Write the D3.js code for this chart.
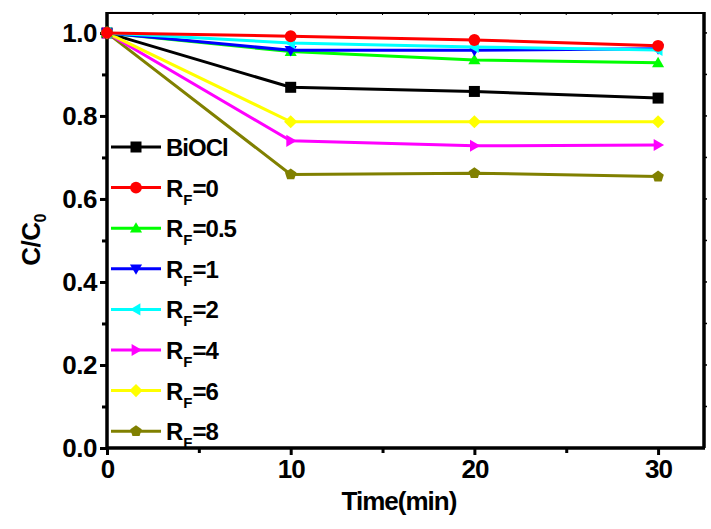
<!DOCTYPE html>
<html><head><meta charset="utf-8">
<script src="https://cdn.jsdelivr.net/npm/d3@7"></script>
<style>body{margin:0;background:#fff}svg{display:block}text{font-family:"Liberation Sans",Arial,sans-serif;font-weight:bold}</style>
</head><body><svg id="c" width="711" height="529"></svg>
<script>
const times = [0, 10, 20, 30];
const seriesNames = ["BiOCl", "R_F=0", "R_F=0.5", "R_F=1", "R_F=2", "R_F=4", "R_F=6", "R_F=8"];
const seriesColors = ["#000000", "#ff0000", "#00ff00", "#0000ff", "#00ffff", "#ff00ff", "#ffff00", "#808000"];
const seriesMarkers = ["square", "circle", "triangleUp", "triangleDown", "triangleLeft", "triangleRight", "diamond", "pentagon"];
const vBiOCl = [1.0, 0.869, 0.859, 0.843];
const vRF0   = [1.0, 0.992, 0.983, 0.969];
const vRF05  = [1.0, 0.955, 0.935, 0.928];
const vRF1   = [1.0, 0.958, 0.958, 0.962];
const vRF2   = [1.0, 0.976, 0.966, 0.959];
const vRF4   = [1.0, 0.740, 0.728, 0.730];
const vRF6   = [1.0, 0.786, 0.786, 0.786];
const vRF8   = [1.0, 0.659, 0.662, 0.654];
const seriesValues = [vBiOCl, vRF0, vRF05, vRF1, vRF2, vRF4, vRF6, vRF8];
const xTicks = [0, 10, 20, 30];
const yTicks = [0.0, 0.2, 0.4, 0.6, 0.8, 1.0];

const svg = d3.select("#c");
const L = 107, R = 704, T = 13, B = 448;
const x = d3.scaleLinear().domain([0, 32.5]).range([L, R]);
const y = d3.scaleLinear().domain([0, 1.048]).range([B, T]);
const FONT = "'Liberation Sans',Arial,sans-serif";

// frame top/right
svg.append("line").attr("x1", L).attr("x2", R).attr("y1", T).attr("y2", T).attr("stroke", "#000").attr("stroke-width", 2);
svg.append("line").attr("x1", R).attr("x2", R).attr("y1", T - 1).attr("y2", B).attr("stroke", "#000").attr("stroke-width", 3.5);
// tiny mirror ticks
d3.range(0, 32.5, 2.5).slice(1).forEach(t => svg.append("line").attr("x1", x(t)).attr("x2", x(t)).attr("y1", T).attr("y2", T + 2).attr("stroke", "#000").attr("stroke-width", 1));
d3.range(0.1, 1.05, 0.1).forEach(t => svg.append("line").attr("x1", R).attr("x2", R + 3).attr("y1", y(t)).attr("y2", y(t)).attr("stroke", "#000").attr("stroke-width", 1.5));

// axes
const xAxis = d3.axisBottom(x).tickValues(xTicks).tickFormat(d3.format("d")).tickSize(7).tickPadding(4);
const gx = svg.append("g").attr("transform", `translate(0,${B})`).call(xAxis);
gx.select(".domain").attr("stroke-width", 3.5).attr("d", `M${L - 1},0H${R + 1}`);
gx.selectAll(".tick line").attr("stroke-width", 3);
gx.selectAll(".tick text").attr("font-size", 26).attr("fill", "#000").attr("dy", "0.72em").attr("font-family", FONT).attr("letter-spacing", -1).style("font-weight", "bold");
const xMinor = d3.axisBottom(x).tickValues([5, 15, 25]).tickFormat("").tickSize(5);
const gxm = svg.append("g").attr("transform", `translate(0,${B})`).call(xMinor);
gxm.select(".domain").remove();
gxm.selectAll(".tick line").attr("stroke-width", 3);

const yAxis = d3.axisLeft(y).tickValues(yTicks).tickFormat(d3.format(".1f")).tickSize(7).tickPadding(3);
const gy = svg.append("g").attr("transform", `translate(${L},0)`).call(yAxis);
gy.select(".domain").attr("stroke-width", 3.5).attr("d", `M0,${B + 1}V${T - 1}`);
gy.selectAll(".tick line").attr("stroke-width", 3);
gy.selectAll(".tick text").attr("font-size", 26).attr("fill", "#000").attr("font-family", FONT).attr("letter-spacing", -0.5).style("font-weight", "bold");
const yMinor = d3.axisLeft(y).tickValues([0.1, 0.3, 0.5, 0.7, 0.9]).tickFormat("").tickSize(5);
const gym = svg.append("g").attr("transform", `translate(${L},0)`).call(yMinor);
gym.select(".domain").remove();
gym.selectAll(".tick line").attr("stroke-width", 3);

// axis titles
svg.append("text").attr("x", 399).attr("y", 510).attr("text-anchor", "middle").attr("font-size", 26)
  .attr("font-family", FONT).attr("letter-spacing", -1).text("Time(min)");
const yt = svg.append("text").attr("transform", "translate(40,240) rotate(-90)").attr("text-anchor", "middle").attr("font-size", 26)
  .attr("font-family", FONT).attr("letter-spacing", -0.5);
yt.append("tspan").text("C/C");
yt.append("tspan").attr("font-size", 16).attr("dy", 6).text("0");

// markers
const sz = 11;
function markerPath(kind) {
  const r = sz / 2;
  switch (kind) {
    case "square": return `M${-r},${-r}H${r}V${r}H${-r}Z`;
    case "circle": return d3.symbol(d3.symbolCircle, Math.PI * r * r * 1.15)();
    case "triangleUp": return `M0,${-r * 1.1}L${r * 1.1},${r * 0.8}L${-r * 1.1},${r * 0.8}Z`;
    case "triangleDown": return `M0,${r * 1.1}L${r * 1.1},${-r * 0.8}L${-r * 1.1},${-r * 0.8}Z`;
    case "triangleLeft": return `M${-r * 1.1},0L${r * 0.8},${-r * 1.1}L${r * 0.8},${r * 1.1}Z`;
    case "triangleRight": return `M${r * 1.1},0L${-r * 0.8},${-r * 1.1}L${-r * 0.8},${r * 1.1}Z`;
    case "diamond": return `M0,${-r * 1.2}L${r * 1.2},0L0,${r * 1.2}L${-r * 1.2},0Z`;
    case "pentagon": {
      const pts = d3.range(5).map(i => { const a = -Math.PI / 2 + i * 2 * Math.PI / 5; return [r * 1.1 * Math.cos(a), r * 1.1 * Math.sin(a)]; });
      return "M" + pts.map(p => p.join(",")).join("L") + "Z";
    }
  }
}

const line = d3.line().x((d, i) => x(times[i])).y(d => y(d));
const order = [0, 7, 5, 6, 2, 3, 4, 1];
order.forEach(si => {
  const g = svg.append("g");
  g.append("path").attr("d", line(seriesValues[si])).attr("fill", "none").attr("stroke", seriesColors[si]).attr("stroke-width", 3);
  seriesValues[si].forEach((v, i) => {
    g.append("path").attr("d", markerPath(seriesMarkers[si])).attr("transform", `translate(${x(times[i])},${y(v)})`).attr("fill", seriesColors[si]);
  });
});

// legend
const legY0 = 147, legDy = 40.6;
seriesNames.forEach((name, i) => {
  const yy = legY0 + i * legDy;
  const g = svg.append("g");
  g.append("line").attr("x1", 111).attr("x2", 161).attr("y1", yy).attr("y2", yy).attr("stroke", seriesColors[i]).attr("stroke-width", 3);
  g.append("path").attr("d", markerPath(seriesMarkers[i])).attr("transform", `translate(136,${yy})`).attr("fill", seriesColors[i]);
  const t = g.append("text").attr("x", 166).attr("y", yy + 9).attr("font-size", 24)
    .attr("font-family", FONT);
  if (name.startsWith("R_F")) {
    t.append("tspan").attr("letter-spacing", 0).text("R");
    t.append("tspan").attr("font-size", 15).attr("dy", 8).attr("dx", 0).attr("letter-spacing", 0).text("F");
    t.append("tspan").attr("dy", -8).attr("dx", 0).attr("letter-spacing", -1).text(name.slice(3));
  } else {
    t.attr("letter-spacing", -1).text(name);
  }
});
</script></body></html>
